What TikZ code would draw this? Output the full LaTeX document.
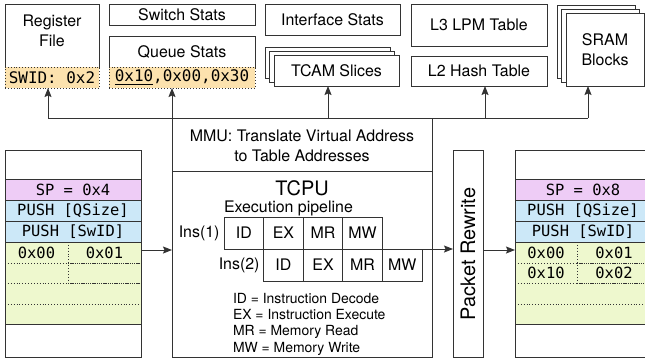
\documentclass[tikz,border=0pt]{standalone}
\usepackage{fontspec}
\setmainfont{TeX Gyre Heros}
\newfontfamily\monof{DejaVu Sans Mono}
\usetikzlibrary{arrows.meta}
\definecolor{lc}{HTML}{333333}
\definecolor{lilac}{HTML}{EECCF6}
\definecolor{lblue}{HTML}{CCE8F8}
\definecolor{lgreen}{HTML}{EEF8CE}
\definecolor{lorange}{HTML}{FCE2AE}
\newcommand\ulx[1]{\setbox0=\hbox{#1}\rlap{\rule[-3bp]{\wd0}{1.4bp}}\box0}
\newcommand\rbox[7]{%
 \pgfmathsetmacro\cxa{(#2+#4)/2}\pgfmathsetmacro\cya{(#3+#5)/2}%
 \pgfmathsetmacro\wa{#4-#2}\pgfmathsetmacro\ha{#5-#3}%
 \node[box,#6,minimum width=\wa bp,minimum height=\ha bp] (#1) at (\cxa,\cya) {#7};}
\begin{document}
\begin{tikzpicture}[x=1bp,y=-1bp,
  box/.style={draw=lc, line width=0.9bp, inner sep=0pt, outer sep=0pt, align=center, fill=white, font=\fontsize{16}{20}\selectfont},
  txt/.style={inner sep=0pt, outer sep=0pt, align=center, font=\fontsize{16}{20}\selectfont},
  mtxt/.style={inner sep=0pt, outer sep=0pt, font=\monof\fontsize{15.5}{18}\selectfont},
  orng/.style={fill=lorange, dotted, font=\monof\fontsize{16}{18}\selectfont},
  stk/.style={font=\monof\fontsize{15.5}{18}\selectfont},
  ln/.style={draw=lc, line width=0.9bp},
  dln/.style={draw=lc, line width=0.9bp, dotted},
  fdln/.style={draw=lc, line width=0.7bp, dash pattern=on 1.4bp off 0.8bp},
  arr/.style={draw=lc, line width=0.9bp, -{Stealth[length=9bp,width=7bp,inset=1.5bp]}},
  leg/.style={inner sep=0pt, outer sep=0pt, anchor=base west, font=\fontsize{14}{16}\selectfont}]
\useasboundingbox (0,0) rectangle (645,362);
\clip (0,0) rectangle (645,362);
% ---------- top row ----------
\rbox{regfile}{5}{4}{99}{67}{}{}
\node[txt] (regtxt) at (52,31) {Register\\File};
\rbox{swid}{5}{67}{99}{88}{orng}{SWID: 0x2}
\rbox{swstats}{109}{4}{255}{25}{}{Switch Stats}
\rbox{qstats}{109}{36}{255}{67}{}{Queue Stats}
\rbox{qvals}{109}{67}{255}{88}{orng}{\ulx{0x10},0x00,0x30}
\rbox{ifstats}{265}{4}{400}{35}{}{Interface Stats}
\rbox{tcamc}{265}{47}{390}{78}{}{}
\rbox{tcamb}{269.5}{51}{394.5}{82}{}{}
\rbox{tcam}{274}{55}{399}{86}{}{TCAM Slices}
\rbox{lthree}{411}{4}{547}{46}{}{L3 LPM Table}
\rbox{ltwo}{411}{56}{547}{86}{}{L2 Hash Table}
\rbox{sramc}{557}{5}{635}{78}{}{}
\rbox{sramb}{561.5}{9}{639.5}{82}{}{}
\rbox{sram}{566}{13}{644}{86}{}{SRAM\\Blocks}
% ---------- MMU / TCPU ----------
\rbox{mmu}{172}{118}{432}{357}{}{}
\coordinate (sepy) at (0,171);
\draw[ln] (mmu.west |- sepy) -- (mmu.east |- sepy);
\node[txt] (mmutxt) at (302,146) {MMU: Translate Virtual Address\\to Table Addresses};
\node[txt, font=\fontsize{20}{24}\selectfont] (tcpu) at (302,188.5) {TCPU};
\node[txt, anchor=west] (exec) at (224,208.5) {Execution pipeline};
% pipeline cells
\rbox{aid}{224}{217}{263.6}{249}{}{ID}
\rbox{aex}{263.6}{217}{303.2}{249}{}{EX}
\rbox{amr}{303.2}{217}{342.8}{249}{}{MR}
\rbox{amw}{342.8}{217}{382.4}{249}{}{MW}
\rbox{bid}{263.6}{249}{303.2}{281}{}{ID}
\rbox{bex}{303.2}{249}{342.8}{281}{}{EX}
\rbox{bmr}{342.8}{249}{382.4}{281}{}{MR}
\rbox{bmw}{382.4}{249}{422}{281}{}{MW}
\node[txt, anchor=east] (insa) at (219.5,233) {Ins(1)};
\node[txt, anchor=east] (insb) at (259.5,265) {Ins(2)};
\node[leg] (lega) at (233,303) {ID = Instruction Decode};
\node[leg] (legb) at (233,319.3) {EX = Instruction Execute};
\node[leg] (legc) at (233,335.6) {MR = Memory Read};
\node[leg] (legd) at (233,352) {MW = Memory Write};
% ---------- left stack ----------
\rbox{lstack}{5}{150}{141}{357}{}{}
\rbox{lsp}{5}{179}{141}{200}{fill=lilac,stk}{SP = 0x4}
\rbox{lqs}{5}{200}{141}{221}{fill=lblue,stk}{PUSH [QSize]}
\rbox{lsw}{5}{221}{141}{242}{fill=lblue,stk}{PUSH [SwID]}
\rbox{lgr}{5}{242}{141}{324}{fill=lgreen}{}
\draw[dln] (lgr.west |- 0,263) -- (68,263);
\draw[fdln] (68,263) -- (lgr.east |- 0,263);
\draw[dln] (lgr.west |- 0,283) -- (68,283);
\draw[fdln] (68,283) -- (lgr.east |- 0,283);
\draw[dln] (lgr.west |- 0,304) -- (lgr.east |- 0,304);
\draw[dln] (68,242) -- (68,283);
\node[mtxt] (lva) at (36.5,252.5) {0x00};
\node[mtxt] (lvb) at (104.5,252.5) {0x01};
% ---------- packet rewrite ----------
\rbox{pr}{453}{150}{483}{357}{}{}
\node[txt, rotate=90, font=\fontsize{20}{24}\selectfont] (prtxt) at (468,254) {Packet Rewrite};
% ---------- right stack ----------
\rbox{rstack}{515}{150}{651}{357}{}{}
\rbox{rsp}{515}{179}{651}{200}{fill=lilac,stk}{SP = 0x8}
\rbox{rqs}{515}{200}{651}{221}{fill=lblue,stk}{PUSH [QSize]}
\rbox{rsw}{515}{221}{651}{242}{fill=lblue,stk}{PUSH [SwID]}
\rbox{rgr}{515}{242}{651}{324}{fill=lgreen}{}
\draw[dln] (rgr.west |- 0,263) -- (577,263);
\draw[fdln] (577,263) -- (rgr.east |- 0,263);
\draw[dln] (rgr.west |- 0,283) -- (577,283);
\draw[fdln] (577,283) -- (rgr.east |- 0,283);
\draw[dln] (rgr.west |- 0,304) -- (rgr.east |- 0,304);
\draw[dln] (577,242) -- (577,283);
\node[mtxt] (rva) at (546,252.5) {0x00};
\node[mtxt] (rvb) at (614,252.5) {0x01};
\node[mtxt] (rvc) at (546,273) {0x10};
\node[mtxt] (rvd) at (614,273) {0x02};
% ---------- bus and arrows ----------
\coordinate (ba) at (48,118);
\coordinate (bb) at (172,118);
\coordinate (bc) at (328,118);
\coordinate (bd) at (485,118);
\coordinate (be) at (588,118);
\draw[ln] (ba) -- (be);
\draw[arr] (ba) -- (ba |- swid.south);
\draw[arr] (bb) -- (bb |- qvals.south);
\draw[arr] (bc) -- (bc |- tcam.south);
\draw[arr] (bd) -- (bd |- ltwo.south);
\draw[arr] (be) -- (be |- sram.south);
\coordinate (ay) at (0,250);
\draw[arr] (lstack.east |- ay) -- (mmu.west |- ay);
\draw[arr] (bmw.north east) -- (pr.west |- bmw.north east);
\draw[arr] (pr.east |- ay) -- (rstack.west |- ay);
\end{tikzpicture}
\end{document}
